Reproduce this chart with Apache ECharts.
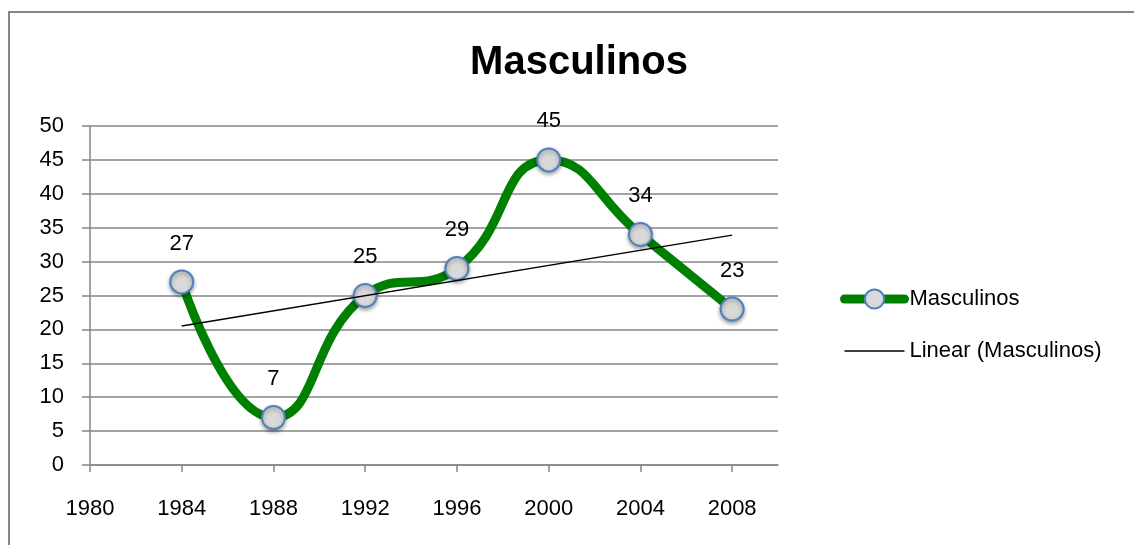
<!DOCTYPE html>
<html>
<head>
<meta charset="utf-8">
<script src="https://cdn.jsdelivr.net/npm/echarts@6/dist/echarts.min.js"></script>
<style>
  html, body { margin: 0; padding: 0; background: #fff; }
  #main { width: 1134px; height: 545px; }
</style>
</head>
<body>
<div id="main"></div>
<script>
var years = [1984, 1988, 1992, 1996, 2000, 2004, 2008];
var valores = [27, 7, 25, 29, 45, 34, 23];
// linea de tendencia (extremos)
var tendYears = [1984, 2008];
var tendValores = [20.5, 33.9];
var xTicks = [1980, 1984, 1988, 1992, 1996, 2000, 2004, 2008];

var fuente = '"Liberation Sans", Arial, sans-serif';
var gris = '#868686';

var chart = echarts.init(document.getElementById('main'));

var serieData = years.map(function (y, i) { return [y, valores[i]]; });
var tendData = tendYears.map(function (y, i) { return [y, tendValores[i]]; });

chart.setOption({
  animation: false,
  graphic: [{
    type: 'rect',
    shape: { x: 9, y: 12, width: 1140, height: 545 },
    style: { fill: 'none', stroke: gris, lineWidth: 2 },
    silent: true
  }],
  title: {
    text: 'Masculinos',
    left: 574,
    top: 38,
    textAlign: 'center',
    textStyle: { fontFamily: fuente, fontSize: 40, fontWeight: 'bold', color: '#000' }
  },
  legend: {
    orient: 'vertical',
    left: 835,
    top: 283,
    itemWidth: 60,
    itemHeight: 24,
    itemGap: 30,
    textStyle: { fontFamily: fuente, fontSize: 22, color: '#000', padding: [0, 0, 0, 0] },
    data: [
      {
        name: 'Masculinos',
        lineStyle: { color: '#008000', width: 9, cap: 'round' },
        itemStyle: { color: '#d9d9d9', borderColor: '#4f81bd', borderWidth: 2 }
      },
      {
        name: 'Linear (Masculinos)',
        lineStyle: { color: '#000', width: 1.3 },
        itemStyle: { color: 'transparent', borderColor: 'transparent', opacity: 0 }
      }
    ]
  },
  grid: { left: 90, top: 126, right: 356, bottom: 80 },
  xAxis: {
    type: 'value',
    min: 1980,
    max: 2010,
    interval: 4,
    axisLine: { show: true, lineStyle: { color: gris, width: 1.5 } },
    axisTick: { show: true, length: 7, customValues: xTicks, lineStyle: { color: gris, width: 1.5 } },
    axisLabel: {
      customValues: xTicks,
      margin: 33,
      fontFamily: fuente,
      fontSize: 22,
      color: '#000',
      formatter: function (v) { return String(v); }
    },
    splitLine: { show: false }
  },
  yAxis: {
    type: 'value',
    min: 0,
    max: 50,
    interval: 5,
    axisLine: { show: true, lineStyle: { color: gris, width: 1.5 } },
    axisTick: { show: true, length: 8, lineStyle: { color: gris, width: 1.5 } },
    axisLabel: { margin: 26, fontFamily: fuente, fontSize: 22, color: '#000' },
    splitLine: { show: true, lineStyle: { color: gris, width: 1.5 } }
  },
  series: [
    {
      name: 'Masculinos',
      type: 'line',
      data: serieData,
      smooth: 0.5,
      z: 3,
      lineStyle: { color: '#008000', width: 9 },
      symbol: 'circle',
      symbolSize: 23,
      itemStyle: {
        color: '#d9d9d9',
        borderColor: '#4f81bd',
        borderWidth: 2,
        shadowColor: 'rgba(0,0,0,0.35)',
        shadowBlur: 4,
        shadowOffsetY: 2
      },
      label: {
        show: true,
        position: 'top',
        distance: 15,
        fontFamily: fuente,
        fontSize: 22,
        color: '#000'
      }
    },
    {
      name: 'Linear (Masculinos)',
      type: 'line',
      data: tendData,
      z: 4,
      symbol: 'none',
      lineStyle: { color: '#000', width: 1.3 },
      itemStyle: { color: '#000' }
    }
  ]
});
</script>
</body>
</html>
